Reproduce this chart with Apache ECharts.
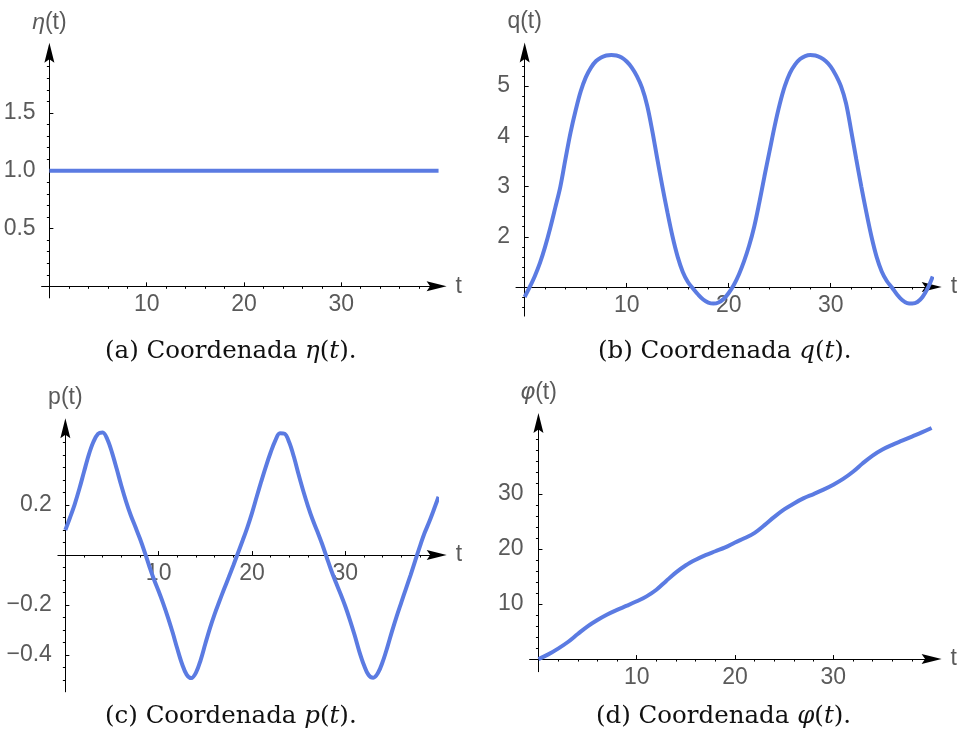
<!DOCTYPE html>
<html><head><meta charset="utf-8">
<script src="https://cdn.jsdelivr.net/npm/echarts@6/dist/echarts.min.js"></script>
<style>html,body{margin:0;padding:0;background:#fff}#c{width:960px;height:745px}</style>
</head><body><div id="c"></div>
<script>
// ---------- data ----------
const tEta = [0, 40];
const eta = [1, 1];

const tHalf = [0,0.5,1,1.5,2,2.5,3,3.5,4,4.5,5,5.5,6,6.5,7,7.5,8,8.5,9,9.5,10,10.5,11,11.5,12,12.5,13,13.5,14,14.5,15,15.5,16,16.5,17,17.5,18,18.5,19,19.5,20,20.5,21,21.5,22,22.5,23,23.5,24,24.5,25,25.5,26,26.5,27,27.5,28,28.5,29,29.5,30,30.5,31,31.5,32,32.5,33,33.5,34,34.5,35,35.5,36,36.5,37,37.5,38,38.5,39,39.5,40];

const q = [0.80,1.00,1.22,1.48,1.80,2.17,2.58,3.00,3.55,4.08,4.52,4.90,5.18,5.37,5.50,5.57,5.61,5.62,5.61,5.57,5.49,5.37,5.20,4.97,4.62,4.12,3.55,3.00,2.48,2.00,1.60,1.30,1.10,0.97,0.85,0.75,0.69,0.67,0.69,0.76,0.88,1.04,1.25,1.51,1.82,2.20,2.68,3.20,3.70,4.20,4.64,5.00,5.26,5.43,5.54,5.60,5.62,5.61,5.57,5.50,5.39,5.22,5.00,4.66,4.12,3.55,3.00,2.48,2.00,1.60,1.31,1.12,0.99,0.85,0.74,0.68,0.67,0.70,0.80,0.97,1.21];

const p = [0.100,0.150,0.203,0.265,0.333,0.400,0.452,0.485,0.490,0.463,0.410,0.345,0.277,0.215,0.160,0.113,0.065,0.012,-0.045,-0.098,-0.145,-0.195,-0.250,-0.310,-0.375,-0.435,-0.478,-0.492,-0.470,-0.420,-0.355,-0.292,-0.236,-0.186,-0.137,-0.090,-0.042,0.008,0.058,0.110,0.168,0.232,0.295,0.355,0.410,0.458,0.487,0.485,0.450,0.392,0.322,0.256,0.196,0.142,0.095,0.046,-0.008,-0.062,-0.110,-0.156,-0.205,-0.260,-0.320,-0.385,-0.440,-0.480,-0.491,-0.472,-0.428,-0.370,-0.306,-0.246,-0.190,-0.135,-0.080,-0.022,0.035,0.088,0.133,0.182,0.233];

const tPhi = [0,1,2,3,4,5,6,7,8,9,10,11,12,13,14,15,16,17,18,19,20,21,22,23,24,25,26,27,28,29,30,31,32,33,34,35,36,37,38,39,40];
const phi = [0,0.85,1.9,3.1,4.55,5.95,7.1,8.1,8.95,9.7,10.5,11.4,12.6,14.2,15.75,17.05,18.05,18.9,19.6,20.3,21.2,22.0,22.95,24.35,25.85,27.2,28.3,29.25,30.0,30.8,31.7,32.75,34.05,35.6,37.0,38.1,38.95,39.7,40.45,41.2,42.0];

// ---------- ticks and labels ----------
const tTicks = [10, 20, 30];
const tTickLabels = ['10', '20', '30'];
const etaTicks = [0.5, 1.0, 1.5];
const etaTickLabels = ['0.5', '1.0', '1.5'];
const qTicks = [2, 3, 4, 5];
const qTickLabels = ['2', '3', '4', '5'];
const pTicks = [-0.4, -0.2, 0.2];
const pTickLabels = ['\u22120.4', '\u22120.2', '0.2'];
const phiTicks = [10, 20, 30];
const phiTickLabels = ['10', '20', '30'];

const axisNames = ['{i|\u03b7}(t)', 'q(t)', 'p(t)', '{g|\u03c6}(t)'];
const captions = [
  '(a) Coordenada {i|\u03b7}({i|t}).',
  '(b) Coordenada {i|q}({i|t}).',
  '(c) Coordenada {i|p}({i|t}).',
  '(d) Coordenada {i|\u03c6}({i|t}).'
];

// ---------- styling ----------
const LINE = '#5b7be2';
const LABEL = '#5a5a5a';
const SANS = '"Liberation Sans", Arial, sans-serif';
const SERIF = '"DejaVu Serif", serif';
const ARROW = 'path://M5,0L10,20L5,16.5L0,20Z';
const FS = 23;

function minorTicks(a, b, step, majors) {
  const out = [];
  for (let k = 0; ; k++) {
    const v = Math.round((a + k * step) * 1000) / 1000;
    if (v > b + 1e-9) break;
    if (!majors.some(m => Math.abs(m - v) < 1e-9)) out.push(v);
  }
  return out;
}

const panels = [
  { grid: {left: 41.6, top: 52.8, width: 395, height: 245.1}, xr: [-0.8, 39.8], yr: [-0.1, 2.02], cross: 0,
    t: tEta, v: eta, xMinor: minorTicks(2, 38, 2, tTicks), yMaj: etaTicks, yLab: etaTickLabels,
    yMinor: minorTicks(0.1, 1.9, 0.1, etaTicks), caption: {x: 105, y: 352} },
  { grid: {left: 516, top: 52.5, width: 415.7, height: 263.6}, xr: [-0.85, 39.9], yr: [0.42, 5.67], cross: 1,
    t: tHalf, v: q, xMinor: minorTicks(2, 38, 2, tTicks), yMaj: qTicks, yLab: qTickLabels,
    yMinor: minorTicks(0.6, 5.6, 0.2, qTicks.concat([1])), caption: {x: 598, y: 352} },
  { grid: {left: 57.9, top: 428.3, width: 378.8, height: 263.5}, xr: [-0.8, 39.8], yr: [-0.547, 0.507], cross: 0,
    t: tHalf, v: p, xMinor: minorTicks(2, 38, 2, tTicks), yMaj: pTicks, yLab: pTickLabels,
    yMinor: minorTicks(-0.5, 0.45, 0.05, pTicks.concat([0])), caption: {x: 105, y: 717} },
  { grid: {left: 529.6, top: 423.1, width: 402.0, height: 248.6}, xr: [-0.9, 40.0], yr: [-2.3, 42.9], cross: 0,
    t: tPhi, v: phi, xMinor: minorTicks(2, 38, 2, tTicks), yMaj: phiTicks, yLab: phiTickLabels,
    yMinor: minorTicks(2, 42, 2, phiTicks.concat([0])), caption: {x: 596, y: 717} }
];

const labelStyle = {color: LABEL, fontSize: FS, fontFamily: SANS};
const nameStyle = {color: LABEL, fontSize: FS, fontFamily: SANS,
  rich: {i: {color: LABEL, fontSize: FS, fontFamily: SANS, fontStyle: 'italic'},
         g: {color: LABEL, fontSize: FS, fontFamily: '"DejaVu Sans", sans-serif', fontStyle: 'italic'}}};

const grid = [], xAxis = [], yAxis = [], series = [], graphic = [];
panels.forEach((P, i) => {
  grid.push(Object.assign({containLabel: false}, P.grid));
  // distance (px) between the grid bottom and the horizontal axis line
  const below = P.grid.height * (P.cross - P.yr[0]) / (P.yr[1] - P.yr[0]);
  const axisLineMain = (idx) => ({show: true, onZero: true, onZeroAxisIndex: idx,
    lineStyle: {color: '#000', width: 1}, symbol: ['none', ARROW], symbolSize: [11, 20]});
  // x axes
  xAxis.push({gridIndex: i, type: 'value', min: P.xr[0], max: P.xr[1],
    axisLine: axisLineMain(3 * i + 2),
    axisTick: {show: true, inside: true, length: 4, customValues: tTicks, lineStyle: {color: '#000', width: 1}},
    axisLabel: Object.assign({show: true, margin: 7 - below, customValues: tTicks,
      formatter: v => tTickLabels[tTicks.findIndex(m => Math.abs(m - v) < 1e-9)] || ''}, labelStyle),
    splitLine: {show: false}, minorTick: {show: false},
    name: 't', nameLocation: 'end', nameGap: 19, nameTextStyle: nameStyle});
  xAxis.push({gridIndex: i, type: 'value', min: P.xr[0], max: P.xr[1],
    axisLine: {show: false, onZero: true, onZeroAxisIndex: 3 * i + 2},
    axisTick: {show: true, inside: true, length: 2.5, customValues: P.xMinor, lineStyle: {color: '#000', width: 1}},
    axisLabel: {show: false}, splitLine: {show: false}});
  // y axes
  yAxis.push({gridIndex: i, type: 'value', min: P.yr[0], max: P.yr[1],
    axisLine: axisLineMain(2 * i),
    axisTick: {show: true, inside: true, length: 4, customValues: P.yMaj, lineStyle: {color: '#000', width: 1}},
    axisLabel: Object.assign({show: true, margin: 6, customValues: P.yMaj,
      formatter: v => P.yLab[P.yMaj.findIndex(m => Math.abs(m - v) < 1e-9)] || ''}, labelStyle),
    splitLine: {show: false},
    name: axisNames[i], nameLocation: 'end', nameGap: 19, nameTextStyle: nameStyle});
  yAxis.push({gridIndex: i, type: 'value', min: P.yr[0], max: P.yr[1],
    axisLine: {show: false, onZero: true, onZeroAxisIndex: 2 * i},
    axisTick: {show: true, inside: true, length: 2.5, customValues: P.yMinor, lineStyle: {color: '#000', width: 1}},
    axisLabel: {show: false}, splitLine: {show: false}});
  // helper axis: its zero is where the horizontal axis crosses
  yAxis.push({gridIndex: i, type: 'value', show: false, min: P.yr[0] - P.cross, max: P.yr[1] - P.cross,
    splitLine: {show: false}});

  series.push({type: 'line', xAxisIndex: 2 * i, yAxisIndex: 3 * i,
    data: P.t.map((x, k) => [x, P.v[k]]), showSymbol: false, symbol: 'none',
    smooth: 0.35, clip: false,
    lineStyle: {color: LINE, width: 4}, z: 3});

  graphic.push({type: 'text', x: P.caption.x, y: P.caption.y,
    style: {text: captions[i], fill: '#111', fontSize: 24.5, fontFamily: SERIF,
      verticalAlign: 'middle', textVerticalAlign: 'middle', align: 'left',
      rich: {i: {fill: '#111', color: '#111', fontSize: 24.5, fontFamily: SERIF, fontStyle: 'italic'}}}});
});

const chart = echarts.init(document.getElementById('c'), null, {renderer: 'canvas'});
chart.setOption({animation: false, backgroundColor: '#fff', grid, xAxis, yAxis, series, graphic});
</script></body></html>
